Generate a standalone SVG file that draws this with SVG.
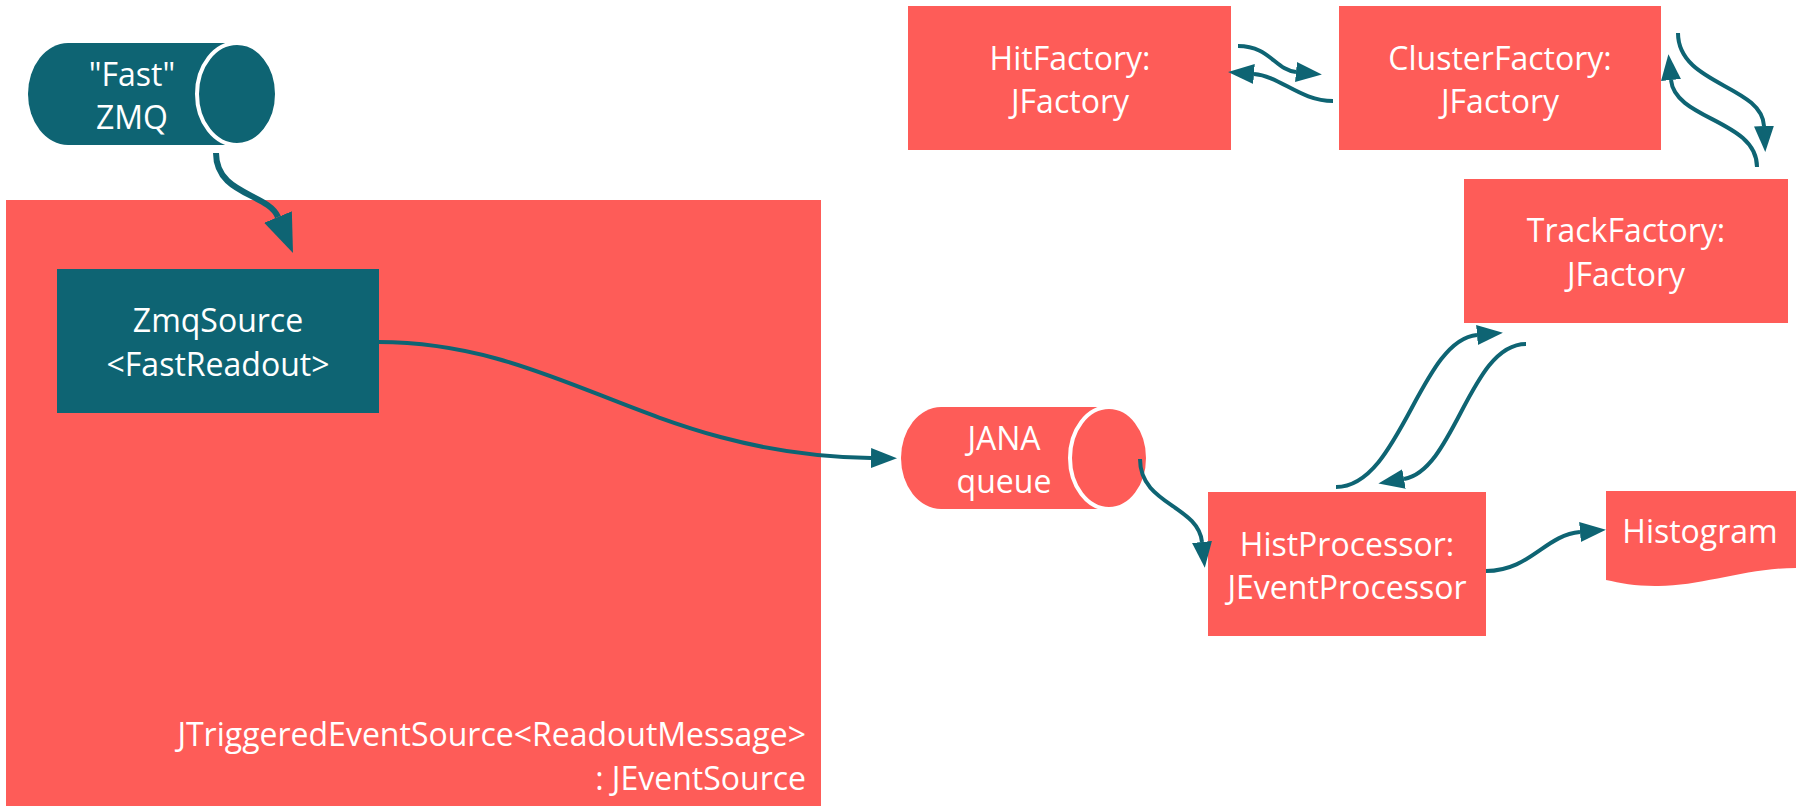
<svg xmlns="http://www.w3.org/2000/svg" width="1796" height="806" viewBox="0 0 1796 806">
<style>
.red{fill:#FE5C58}
.teal{fill:#0E6473}
.lbl{font-family:"Open Sans","Liberation Sans",sans-serif;font-size:32px;fill:#FFFFFF;text-anchor:middle}
.conn{fill:none;stroke:#0E6473;stroke-width:4}
.ring{stroke:#FFFFFF;stroke-width:4}
</style>
<defs>
<marker id="ah" markerUnits="userSpaceOnUse" markerWidth="28" markerHeight="22" refX="0" refY="11" orient="auto" viewBox="0 0 28 22">
<path d="M0,1 L26,11 L0,21 Z" fill="#0E6473"/>
</marker>
<marker id="ahBig" markerUnits="userSpaceOnUse" markerWidth="40" markerHeight="32" refX="0" refY="16" orient="auto" viewBox="0 0 40 32">
<path d="M0,1 L39,16 L0,31 Z" fill="#0E6473"/>
</marker>
</defs>
<rect width="1796" height="806" fill="#FFFFFF"/>

<g id="source">
<rect class="red" x="6" y="200" width="815" height="606"/>
<text class="lbl" style="text-anchor:end" x="806" y="746">JTriggeredEventSource&lt;ReadoutMessage&gt;</text>
<text class="lbl" style="text-anchor:end" x="806" y="790">: JEventSource</text>
</g>

<g id="zmq">
<path class="teal" d="M68,43 H237 A40,51 0 0 1 237,145 H68 A40,51 0 0 1 68,43 Z"/>
<ellipse class="teal ring" cx="237" cy="94" rx="40" ry="51"/>
<text class="lbl" x="132" y="86">"Fast"</text>
<text class="lbl" x="132" y="129">ZMQ</text>
</g>

<g id="zmqsource">
<rect class="teal" x="57" y="269" width="322" height="144"/>
<text class="lbl" x="218" y="332">ZmqSource</text>
<text class="lbl" x="218" y="376">&lt;FastReadout&gt;</text>
</g>

<g id="jana">
<path class="red" d="M941,407 H1109 A39,51 0 0 1 1109,509 H941 A40,51 0 0 1 941,407 Z"/>
<ellipse class="red ring" cx="1109" cy="458" rx="39" ry="51"/>
<text class="lbl" x="1004" y="450">JANA</text>
<text class="lbl" x="1004" y="493">queue</text>
</g>

<g id="hitfactory">
<rect class="red" x="908" y="6" width="323" height="144"/>
<text class="lbl" x="1070" y="70">HitFactory:</text>
<text class="lbl" x="1070" y="113">JFactory</text>
</g>

<g id="clusterfactory">
<rect class="red" x="1339" y="6" width="322" height="144"/>
<text class="lbl" x="1500" y="70">ClusterFactory:</text>
<text class="lbl" x="1500" y="113">JFactory</text>
</g>

<g id="trackfactory">
<rect class="red" x="1464" y="179" width="324" height="144"/>
<text class="lbl" x="1626" y="242">TrackFactory:</text>
<text class="lbl" x="1626" y="286">JFactory</text>
</g>

<g id="histprocessor">
<rect class="red" x="1208" y="492" width="278" height="144"/>
<text class="lbl" x="1347" y="556">HistProcessor:</text>
<text class="lbl" x="1347" y="599">JEventProcessor</text>
</g>

<g id="histogram">
<path class="red" d="M1606,491 H1796 V568 C1745,568 1700,587 1655,586 C1635,586 1620,583 1606,580 Z"/>
<text class="lbl" x="1700" y="543">Histogram</text>
</g>

<g id="connectors">
<path class="conn" style="stroke-width:6" d="M216,153 C216,195 268,193 278,217" marker-end="url(#ahBig)"/>
<path class="conn" d="M378,342 C560,342 650,455 871,458" marker-end="url(#ah)"/>
<path class="conn" d="M1140,459 C1140,505 1198,505 1202,542" marker-end="url(#ah)"/>
<path class="conn" d="M1486,571 C1530,571 1545,535 1580,532" marker-end="url(#ah)"/>
<path class="conn" d="M1238,46 C1270,46 1275,70 1296,72" marker-end="url(#ah)"/>
<path class="conn" d="M1333,101 C1300,101 1280,76 1254,74" marker-end="url(#ah)"/>
<path class="conn" d="M1678,33 C1678,85 1762,85 1764,126" marker-end="url(#ah)"/>
<path class="conn" d="M1757,167 C1757,120 1675,120 1671,80" marker-end="url(#ah)"/>
<path class="conn" d="M1336,487 C1400,487 1420,340 1477,335" marker-end="url(#ah)"/>
<path class="conn" d="M1526,344 C1470,344 1455,470 1404,479" marker-end="url(#ah)"/>
</g>
</svg>
